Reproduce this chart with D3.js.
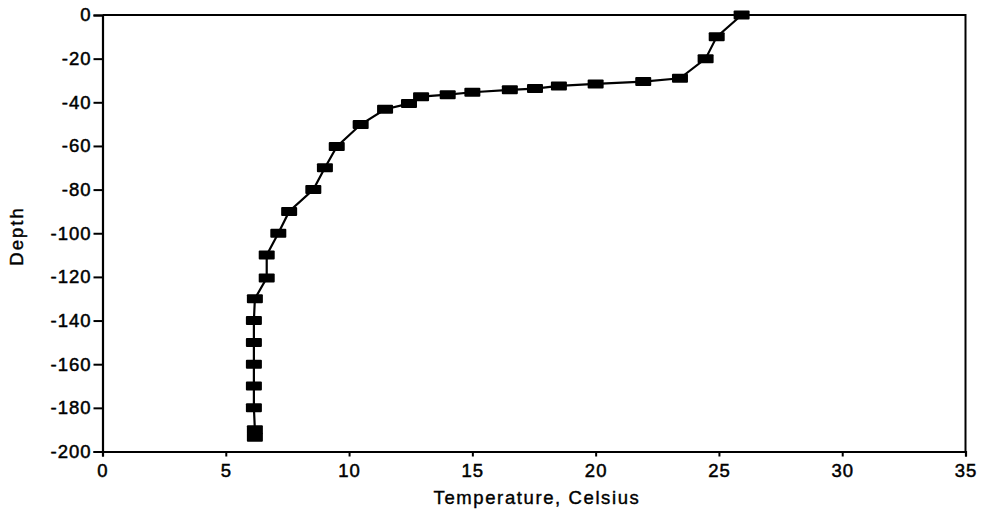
<!DOCTYPE html>
<html>
<head>
<meta charset="utf-8">
<script src="https://cdn.jsdelivr.net/npm/d3@7"></script>
<style>
  html, body { margin: 0; padding: 0; background: #fff; }
  svg { display: block; }
  text { font-family: "Liberation Sans", Arial, Helvetica, sans-serif; fill: #000; }
</style>
</head>
<body>
<svg id="chart" width="982" height="509"></svg>
<script>
// ---- data ----
const temperature = [25.92, 24.91, 24.46, 23.42, 21.93, 20.0, 18.51, 17.54, 16.52, 15.0, 14.0, 12.92,
                     12.43, 11.46, 10.47, 9.5, 9.02, 8.55, 7.57, 7.13, 6.66, 6.66, 6.18,
                     6.14, 6.14, 6.14, 6.14, 6.14, 6.18, 6.18];
const depth = [0, -10, -20, -29, -30.5, -31.6, -32.5, -33.7, -34.3, -35.4, -36.5, -37.4,
               -40.6, -43.2, -50.2, -60.3, -70, -80, -90, -100, -110, -120.5, -130,
               -140, -150, -160, -170, -180, -190, -193.5];
const xTicks = [0, 5, 10, 15, 20, 25, 30, 35];
const yTicks = [0, -20, -40, -60, -80, -100, -120, -140, -160, -180, -200];
const xTitle = "Temperature, Celsius";
const yTitle = "Depth";

// ---- layout ----
const svg = d3.select("#chart");
const mLeft = 102.5, mRight = 965.5, mTop = 15, mBottom = 451.5;

const x = d3.scaleLinear().domain([0, 35]).range([mLeft, mRight]);
const y = d3.scaleLinear().domain([-200, 0]).range([mBottom, mTop]);

const fontSize = "18.5px";

// frame (top and right)
svg.append("path")
  .attr("d", `M${mLeft},${mTop}H${mRight}V${mBottom}`)
  .attr("fill", "none").attr("stroke", "#000").attr("stroke-width", 2);

// x axis
const gx = svg.append("g")
  .attr("transform", `translate(0,${mBottom})`)
  .call(d3.axisBottom(x).tickValues(xTicks).tickSize(5).tickPadding(6).tickFormat(d3.format("d")));
// y axis
const gy = svg.append("g")
  .attr("transform", `translate(${mLeft},0)`)
  .call(d3.axisLeft(y).tickValues(yTicks).tickSize(9).tickPadding(2).tickFormat(d3.format("d")));

[gx, gy].forEach(g => {
  g.select(".domain").attr("stroke", "#000").attr("stroke-width", 2.2);
  g.selectAll(".tick line").attr("stroke", "#000").attr("stroke-width", 2);
  g.selectAll(".tick text")
    .attr("fill", "#000")
    .attr("stroke", "#000")
    .attr("stroke-width", 0.5)
    .style("font-size", fontSize)
    .style("letter-spacing", "1px")
    .style("font-family", '"Liberation Sans", Arial, sans-serif');
});
gx.selectAll(".tick text").attr("dy", "0.76em");
gy.selectAll(".tick text").text(d => d < 0 ? "-" + Math.abs(d) : d);

// titles
svg.append("text")
  .attr("x", (mLeft + mRight) / 2 + 3)
  .attr("y", 504)
  .attr("text-anchor", "middle")
  .attr("stroke", "#000").attr("stroke-width", 0.4)
  .style("font-size", fontSize)
  .style("letter-spacing", "1.6px")
  .text(xTitle);

svg.append("text")
  .attr("transform", `translate(23,236) rotate(-90)`)
  .attr("text-anchor", "middle")
  .attr("stroke", "#000").attr("stroke-width", 0.4)
  .style("font-size", fontSize)
  .style("letter-spacing", "2px")
  .text(yTitle);

// data
const pts = temperature.map((t, i) => ({ t, d: depth[i] }));

svg.append("path")
  .datum(pts)
  .attr("fill", "none")
  .attr("stroke", "#000")
  .attr("stroke-width", 2.2)
  .attr("d", d3.line().x(p => x(p.t)).y(p => y(p.d)));

const mw = 16, mh = 9;
svg.append("g").selectAll("rect")
  .data(pts)
  .join("rect")
  .attr("x", p => x(p.t) - mw / 2)
  .attr("y", p => y(p.d) - mh / 2)
  .attr("width", mw)
  .attr("height", mh)
  .attr("rx", 1)
  .attr("fill", "#000");
</script>
</body>
</html>
